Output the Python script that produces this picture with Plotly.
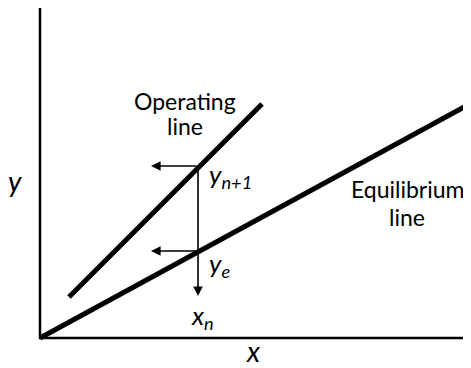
import plotly.graph_objects as go

# Schematic values (arbitrary units with origin at axes corner)
equilibrium_x = [0, 426]
equilibrium_y = [0, 232]
operating_x = [29, 222]
operating_y = [41, 234]
x_n = 158
y_n1 = 172
y_e = 87
arrow_left_x = 111
arrow_down_y = 42
axis_x_end = 428
axis_y_end = 334

FONT = "Lato"
fig = go.Figure()

# axes
fig.add_trace(go.Scatter(x=[0, 0, axis_x_end], y=[axis_y_end, 0, 0], mode="lines",
                         line=dict(color="black", width=2.5), hoverinfo="skip"))
# equilibrium and operating lines
fig.add_trace(go.Scatter(x=equilibrium_x, y=equilibrium_y, mode="lines",
                         line=dict(color="black", width=5), hoverinfo="skip"))
fig.add_trace(go.Scatter(x=operating_x, y=operating_y, mode="lines",
                         line=dict(color="black", width=5), hoverinfo="skip"))

arrows = [
    (arrow_left_x, y_n1, x_n, y_n1),
    (arrow_left_x, y_e, x_n, y_e),
    (x_n, arrow_down_y, x_n, y_n1),
]
for (tx, ty, fx, fy) in arrows:
    fig.add_annotation(x=tx, y=ty, ax=fx, ay=fy, xref="x", yref="y", axref="x", ayref="y",
                       showarrow=True, arrowhead=2, arrowsize=1.2, arrowwidth=1.6,
                       arrowcolor="black", text="")

def label(text, x, y, size=23, xanchor="center"):
    fig.add_annotation(x=x, y=y, xref="x", yref="y", text=text, showarrow=False,
                       font=dict(family=FONT, size=size, color="black"),
                       xanchor=xanchor, yanchor="middle")

label("Operating", 145, 237)
label("line", 145, 212)
label("Equilibrium", 367, 149)
label("line", 367, 121)
label("<i>y</i>", -25, 157, size=28)
label("<i>x</i>", 213, -13, size=28)
label("<i>y<sub>n+1</sub></i>", 167, 163, size=26, xanchor="left")
label("<i>y<sub>e</sub></i>", 167, 74, size=26, xanchor="left")
label("<i>x<sub>n</sub></i>", 162, 22, size=26, xanchor="center")

# page body has an 8px margin: figure is sized to fit the window and ranges are shifted
fig.update_layout(
    width=463, height=360,
    margin=dict(l=0, r=0, t=0, b=0),
    paper_bgcolor="white", plot_bgcolor="white",
    showlegend=False,
    xaxis=dict(range=[-32, 431], visible=False, fixedrange=True),
    yaxis=dict(range=[-30, 330], visible=False, fixedrange=True),
)
fig.write_html("out.html")
